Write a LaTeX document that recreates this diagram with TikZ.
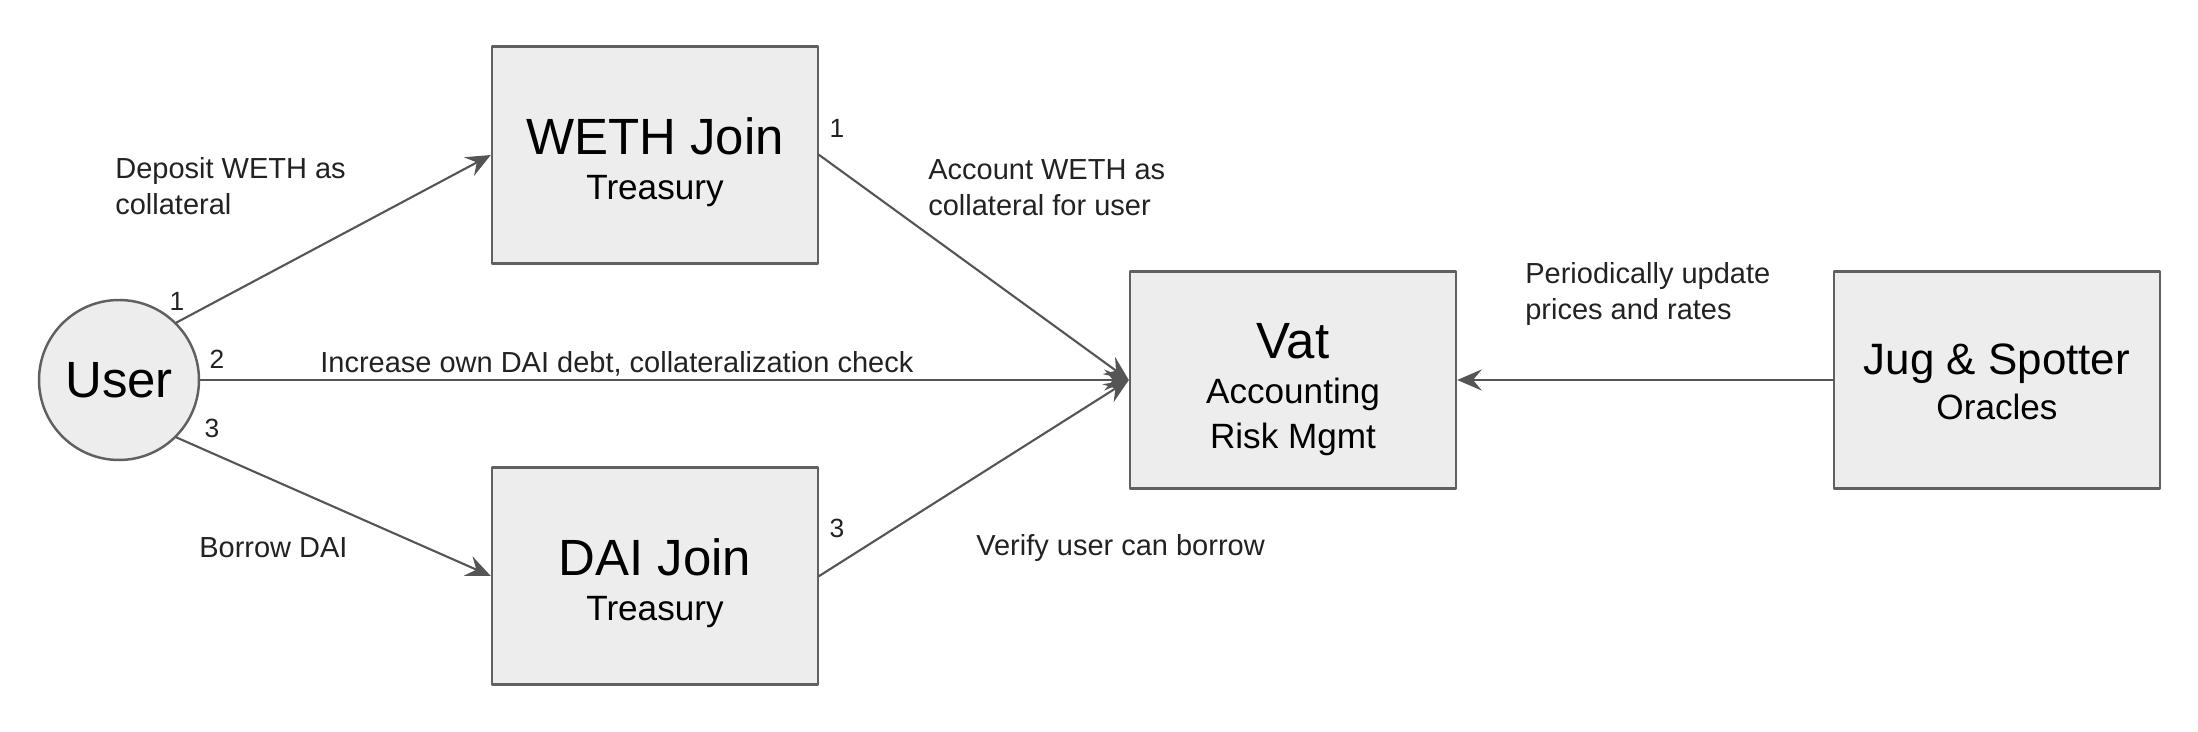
\documentclass[tikz,border=0pt]{standalone}
\usepackage{fontspec}
\setmainfont{Liberation Sans}
\usepackage{tikz}
\usetikzlibrary{arrows.meta}

\definecolor{boxfill}{HTML}{EDEDED}
\definecolor{boxline}{HTML}{606060}
\definecolor{flowline}{HTML}{555555}
\definecolor{labeltext}{HTML}{222222}

\newcommand{\boxtitle}[2][29pt]{{\fontsize{29}{32}\selectfont\rule{0pt}{#1}#2}}

\begin{document}
\begin{tikzpicture}[line cap=round,line join=round,>={Stealth[length=14pt,width=12pt,inset=5pt]},x=0.02cm,y=-0.02cm,
  box/.style={draw=boxline,fill=boxfill,line width=1.4pt,minimum width=6.52cm,minimum height=4.34cm,align=center,inner sep=0pt,font=\fontsize{20}{25.5}\selectfont},
  flow/.style={draw=flowline,line width=1.2pt,->},
  lbl/.style={text=labeltext,align=left,inner sep=0pt,font=\fontsize{16.5}{20.5}\selectfont},
  num/.style={text=labeltext,inner sep=0pt,font=\fontsize{15}{18}\selectfont}]
\useasboundingbox (0,0) rectangle (2198,732);
\node [circle,draw=boxline,fill=boxfill,line width=1.4pt,minimum size=3.2cm,inner sep=0pt,font=\fontsize{29}{34}\selectfont] (user) at (119,380) {User};
\node [box] (weth) at (655,155) {\boxtitle{WETH Join}\\Treasury};
\node [box] (dai) at (655,576) {\boxtitle{DAI Join}\\Treasury};
\node [box] (vat) at (1293,380) {\boxtitle[31pt]{Vat}\\Accounting\\Risk Mgmt};
\node [box] (jug) at (1997,380) {{\fontsize{25}{30}\selectfont\rule{0pt}{20pt}Jug \& Spotter}\\Oracles};
\draw [flow] (user.45)-- (weth.west);
\draw [flow] (user)-- (vat);
\draw [flow] (user.-45)-- (dai.west);
\draw [flow] (weth.east)-- (vat.west);
\draw [flow] (dai.east)-- (vat.west);
\draw [flow] (jug)-- (vat);
\node [lbl,anchor=west] (deposit) at (115,186) {Deposit WETH as\\collateral};
\node [lbl,anchor=base west] (increase) at (320,373) {Increase own DAI debt, collateralization check};
\node [lbl,anchor=west] (borrow) at (199,548) {Borrow DAI};
\node [lbl,anchor=west] (account) at (928,188) {Account WETH as\\collateral for user};
\node [lbl,anchor=west] (verify) at (976,548) {Verify user can borrow};
\node [lbl,anchor=west] (update) at (1525,294) {Periodically update\\prices and rates};
\node [num] (n1) at (177,301) {1};
\node [num] (n2) at (217,359) {2};
\node [num] (n3) at (212,428) {3};
\node [num] (w1) at (837,128) {1};
\node [num] (d3) at (837,528) {3};
\end{tikzpicture}
\end{document}
